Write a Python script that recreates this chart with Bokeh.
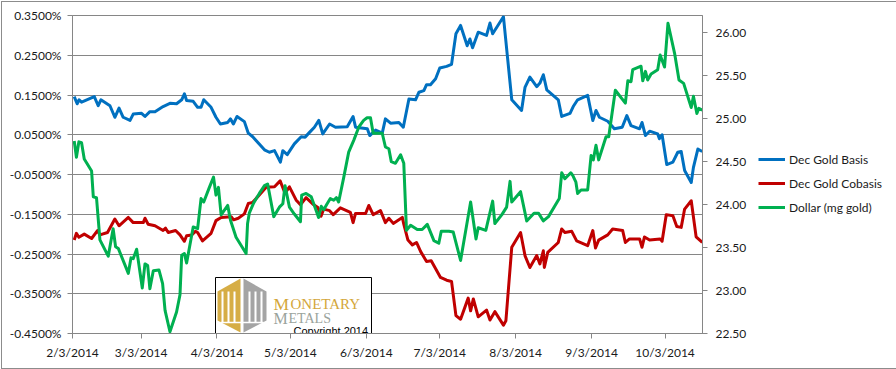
import pandas as pd
from bokeh.plotting import figure
from bokeh.layouts import row
from bokeh.models import (Range1d, LinearAxis, FixedTicker, PrintfTickFormatter,
                          Legend, LegendItem)
from bokeh.embed import file_html
from bokeh.resources import INLINE
from bokeh.core.properties import value

# ---------------- data ----------------
START = "2014-02-03"
tick_dates = ["2014-02-03", "2014-03-03", "2014-04-03", "2014-05-03", "2014-06-03",
              "2014-07-03", "2014-08-03", "2014-09-03", "2014-10-03"]
tick_labels = ["2/3/2014", "3/3/2014", "4/3/2014", "5/3/2014", "6/3/2014",
               "7/3/2014", "8/3/2014", "9/3/2014", "10/3/2014"]
left_ticks = [-0.45, -0.35, -0.25, -0.15, -0.05, 0.05, 0.15, 0.25, 0.35]
right_ticks = [22.5, 23.0, 23.5, 24.0, 24.5, 25.0, 25.5, 26.0]

# days elapsed since 2/3/2014
basis_days = [0.7, 1.9, 2.7, 3.7, 8.9, 10.5, 11.6, 15.3, 17.3, 19.0, 20.7, 23.5, 24.8, 28.2,
              29.6, 31.6, 33.7, 37.0, 39.8, 42.5, 44.6, 45.7, 46.6, 49.3, 51.1, 52.5, 53.6,
              56.6, 58.6, 60.4, 63.4, 64.5, 65.7, 67.2, 70.2, 71.8, 73.6, 78.4, 80.4, 82.5,
              84.9, 85.9, 87.7, 90.6, 93.4, 95.0, 96.8, 98.8, 100.6, 102.2, 105.0, 107.4,
              112.2, 114.6, 115.6, 120.4, 121.4, 123.8, 126.5, 127.8, 129.9, 133.3, 135.1,
              137.4, 140.1, 141.5, 143.5, 144.6, 146.2, 148.3, 150.0, 152.8, 154.8, 156.6,
              158.5, 161.2, 162.3, 163.4, 165.7, 169.1, 170.5, 171.6, 176.0, 179.4, 183.4,
              184.8, 186.8, 189.6, 190.9, 192.3, 193.7, 198.4, 199.8, 203.2, 204.5, 206.3,
              210.4, 212.5, 213.8, 215.2, 218.6, 221.3, 224.5, 226.4, 228.1, 231.6, 232.6,
              234.0, 235.7, 239.0, 239.7, 240.8, 242.7, 245.2, 247.2, 248.6, 250.0, 252.7,
              253.6, 255.4, 257.2]
basis_vals = [0.146, 0.128, 0.138, 0.132, 0.146, 0.123, 0.138, 0.123, 0.094, 0.117, 0.094,
              0.086, 0.102, 0.104, 0.096, 0.108, 0.108, 0.121, 0.129, 0.128, 0.138, 0.153,
              0.136, 0.134, 0.119, 0.119, 0.138, 0.119, 0.094, 0.077, 0.081, 0.090, 0.077,
              0.096, 0.083, 0.054, 0.045, 0.012, 0.006, 0.010, -0.019, 0.010, 0.000, 0.027,
              0.045, 0.044, 0.056, 0.069, 0.086, 0.052, 0.077, 0.069, 0.070, 0.096, 0.069,
              0.065, 0.048, 0.062, 0.054, 0.090, 0.079, 0.081, 0.069, 0.140, 0.138, 0.157,
              0.161, 0.176, 0.176, 0.191, 0.218, 0.222, 0.227, 0.304, 0.325, 0.274, 0.291,
              0.269, 0.308, 0.300, 0.331, 0.304, 0.347, 0.138, 0.111, 0.169, 0.195, 0.171,
              0.180, 0.201, 0.163, 0.138, 0.096, 0.104, 0.121, 0.138, 0.149, 0.086, 0.111,
              0.094, 0.084, 0.065, 0.069, 0.098, 0.073, 0.065, 0.081, 0.048, 0.059, 0.052,
              0.040, 0.050, -0.025, -0.019, 0.006, 0.008, -0.040, -0.070, -0.032, 0.014,
              0.008]

cobasis_days = [0.7, 1.6, 2.6, 4.8, 7.8, 10.2, 11.2, 14.3, 17.3, 19.0, 22.8, 24.8, 28.9, 29.6,
                30.9, 33.7, 37.0, 38.0, 39.1, 42.1, 43.9, 45.7, 46.6, 48.7, 50.2, 51.1, 53.1,
                56.6, 58.6, 60.7, 64.8, 65.8, 67.7, 70.2, 71.8, 73.6, 79.1, 82.5, 84.8, 86.8,
                88.6, 91.3, 93.1, 95.4, 98.1, 100.2, 101.5, 102.6, 105.0, 106.5, 109.4, 113.5,
                114.6, 115.6, 119.7, 121.0, 122.8, 125.8, 127.8, 129.2, 131.0, 134.7, 135.3,
                137.0, 138.8, 140.5, 142.2, 144.6, 146.5, 150.3, 152.8, 154.8, 156.6, 158.5,
                161.6, 162.6, 163.7, 165.7, 169.1, 170.5, 172.5, 176.0, 177.0, 179.4, 183.0,
                184.8, 186.8, 189.6, 190.9, 192.3, 192.7, 194.1, 198.4, 199.8, 201.1, 203.9,
                205.9, 210.4, 212.5, 213.6, 214.9, 218.6, 220.6, 224.7, 225.8, 227.5, 231.6,
                232.6, 233.6, 235.7, 240.0, 240.8, 242.5, 245.2, 246.8, 248.6, 250.0, 252.7,
                254.7, 257.2]
cobasis_vals = [-0.215, -0.198, -0.208, -0.200, -0.211, -0.191, -0.202, -0.196, -0.162,
                -0.179, -0.158, -0.171, -0.171, -0.160, -0.175, -0.179, -0.191, -0.185,
                -0.196, -0.191, -0.202, -0.218, -0.204, -0.202, -0.193, -0.196, -0.217,
                -0.198, -0.166, -0.158, -0.156, -0.164, -0.160, -0.149, -0.123, -0.120,
                -0.082, -0.081, -0.066, -0.097, -0.081, -0.114, -0.126, -0.108, -0.124,
                -0.133, -0.155, -0.137, -0.141, -0.151, -0.134, -0.145, -0.171, -0.148,
                -0.148, -0.128, -0.151, -0.141, -0.171, -0.160, -0.173, -0.158, -0.175,
                -0.215, -0.227, -0.221, -0.244, -0.269, -0.267, -0.309, -0.316, -0.319,
                -0.405, -0.414, -0.361, -0.393, -0.363, -0.408, -0.391, -0.416, -0.395,
                -0.429, -0.418, -0.233, -0.196, -0.254, -0.284, -0.254, -0.275, -0.242,
                -0.284, -0.246, -0.221, -0.187, -0.196, -0.193, -0.217, -0.229, -0.191,
                -0.235, -0.215, -0.202, -0.187, -0.191, -0.221, -0.212, -0.212, -0.233,
                -0.207, -0.215, -0.212, -0.218, -0.151, -0.154, -0.181, -0.183, -0.137,
                -0.116, -0.207, -0.221]

dollar_days = [0.7, 1.6, 2.6, 3.7, 4.8, 7.8, 8.5, 9.8, 11.2, 14.6, 16.6, 17.6, 18.7, 22.8,
               23.9, 24.8, 26.2, 28.5, 29.6, 30.7, 31.6, 33.0, 35.3, 36.8, 37.8, 39.8, 42.5,
               43.9, 44.6, 45.7, 46.6, 49.3, 51.1, 52.5, 53.6, 55.9, 57.6, 58.6, 59.6, 60.7,
               63.4, 64.5, 66.8, 70.9, 71.5, 72.2, 74.0, 76.3, 78.4, 79.7, 82.2, 84.5, 85.9,
               86.8, 88.6, 90.6, 93.1, 93.6, 95.4, 97.5, 99.5, 100.5, 101.6, 102.6, 104.0,
               105.3, 106.7, 107.8, 108.7, 110.8, 112.8, 114.9, 116.9, 118.9, 120.3, 121.7,
               122.8, 126.5, 127.8, 129.2, 130.2, 131.9, 134.0, 135.3, 136.4, 138.1, 140.8,
               142.8, 144.9, 147.6, 149.6, 150.6, 153.7, 155.5, 158.5, 162.6, 164.8, 165.7,
               168.8, 171.6, 172.5, 175.3, 177.3, 178.7, 179.4, 183.0, 185.5, 188.5, 190.3,
               192.3, 194.4, 198.8, 199.8, 201.1, 203.5, 204.3, 205.6, 206.3, 207.7, 210.4,
               211.8, 212.7, 213.8, 214.9, 217.9, 219.0, 221.7, 225.8, 226.8, 228.1, 228.8,
               232.2, 232.9, 234.0, 234.9, 236.3, 239.0, 240.0, 241.8, 243.2, 245.9, 247.7,
               249.6, 252.7, 253.6, 255.0, 255.8, 257.2]
dollar_vals = [24.74, 24.55, 24.73, 24.72, 24.53, 24.39, 24.09, 24.08, 23.59, 23.40, 23.72,
               23.51, 23.49, 23.20, 23.38, 23.37, 23.48, 23.03, 23.31, 23.29, 23.02, 23.23,
               23.24, 23.08, 22.77, 22.52, 22.75, 22.95, 23.41, 23.43, 23.32, 23.74, 23.72,
               24.07, 24.03, 24.20, 24.32, 24.11, 24.20, 23.88, 23.99, 23.82, 23.62, 23.43,
               23.78, 23.90, 24.02, 24.13, 24.22, 24.24, 23.86, 23.97, 24.01, 24.22, 23.97,
               23.89, 23.80, 24.11, 24.13, 24.09, 23.93, 23.85, 23.98, 23.94, 24.01, 24.07,
               24.05, 24.08, 24.03, 24.32, 24.61, 24.75, 24.90, 24.98, 25.01, 25.01, 24.83,
               24.83, 24.67, 24.65, 24.50, 24.48, 24.58, 24.48, 23.70, 23.76, 23.71, 23.71,
               23.77, 23.58, 23.55, 23.69, 23.69, 23.68, 23.35, 24.03, 23.60, 23.73, 23.70,
               24.04, 23.78, 23.88, 23.97, 24.27, 24.03, 24.15, 23.81, 23.90, 23.90, 23.81,
               23.86, 24.07, 24.37, 24.30, 24.37, 24.34, 24.26, 24.13, 24.17, 24.17, 24.57,
               24.52, 24.69, 24.52, 24.79, 24.79, 25.33, 25.18, 25.44, 25.43, 25.57, 25.61,
               25.44, 25.55, 25.45, 25.52, 25.57, 25.74, 25.60, 26.11, 25.76, 25.45, 25.41,
               25.13, 25.26, 25.06, 25.12, 25.10]

series_names = ["Dec Gold Basis", "Dec Gold Cobasis", "Dollar (mg gold)"]
series_colors = ["#0070C0", "#C00000", "#00B050"]

# ---------------- layout ----------------
FONT = "Lato"
GRID = "#868686"
X_END = 257.3
L_MIN, L_MAX = -0.45, 0.35
R_MIN, R_MAX = 22.5, 26.2
FR_L, FR_T, FR_W, FR_H = 72, 15, 630, 318  # frame position on the page
TOTAL_W, TOTAL_H = 894, 366
MAIN_W = 752


def dx(px):
    return (px - FR_L) * X_END / FR_W


def dy(py):
    return L_MAX - (py - FR_T) * (L_MAX - L_MIN) / FR_H


tick_pos = [float((pd.Timestamp(d) - pd.Timestamp(START)).days) for d in tick_dates]

p = figure(width=MAIN_W, height=TOTAL_H, output_backend="svg", toolbar_location=None,
           x_range=Range1d(0, X_END), y_range=Range1d(L_MIN, L_MAX),
           min_border_left=70, min_border_right=MAIN_W - 70 - FR_W, min_border_top=13,
           min_border_bottom=TOTAL_H - 13 - FR_H)
p.outline_line_color = GRID
p.background_fill_color = "white"
p.border_fill_color = "white"

p.xgrid.visible = False
p.ygrid.ticker = FixedTicker(ticks=left_ticks)
p.ygrid.grid_line_color = GRID
p.ygrid.grid_line_width = 1

p.xaxis.ticker = FixedTicker(ticks=tick_pos)
p.xaxis.major_label_overrides = {t: l for t, l in zip(tick_pos, tick_labels)}
p.yaxis.ticker = FixedTicker(ticks=left_ticks)
p.yaxis.formatter = PrintfTickFormatter(format="%.4f%%")

p.extra_y_ranges = {"usd": Range1d(R_MIN, R_MAX)}
rax = LinearAxis(y_range_name="usd", ticker=FixedTicker(ticks=right_ticks),
                 formatter=PrintfTickFormatter(format="%.2f"))
p.add_layout(rax, "right")

for ax in [p.xaxis[0], p.yaxis[0], rax]:
    ax.axis_line_color = GRID
    ax.major_tick_line_color = GRID
    ax.minor_tick_line_color = None
    ax.major_tick_in = 0
    ax.major_tick_out = 5
    ax.major_label_text_font = FONT
    ax.major_label_text_font_size = "12px"
    ax.major_label_text_color = "#1a1a1a"
p.yaxis[0].major_label_standoff = 6
rax.major_label_standoff = 8
p.xaxis[0].major_label_standoff = 6

p.line(basis_days, basis_vals, line_color=series_colors[0], line_width=3, line_join="round")
p.line(cobasis_days, cobasis_vals, line_color=series_colors[1], line_width=3, line_join="round")
p.line(dollar_days, dollar_vals, line_color=series_colors[2], line_width=3, line_join="round",
       y_range_name="usd")

# ---------------- logo box ----------------
p.quad(left=[dx(215)], right=[dx(371)], top=[dy(277)], bottom=[dy(333)],
       fill_color="white", line_color="black", line_width=1)
gold, grey = "#D6AD45", "#A4A4A4"
p.patch([dx(240), dx(217), dx(217), dx(240)], [dy(278), dy(291), dy(320), dy(332)],
        fill_color=gold, line_color=None)
p.patch([dx(243), dx(266), dx(266), dx(243)], [dy(278), dy(291), dy(320), dy(332)],
        fill_color=grey, line_color=None)
for xs in [222, 228, 234, 249, 255, 261]:
    p.segment(x0=[dx(xs)], y0=[dy(291)], x1=[dx(xs)], y1=[dy(322)],
              line_color="white", line_width=2)
p.segment(x0=[dx(220)], y0=[dy(322)], x1=[dx(263)], y1=[dy(322)],
          line_color="white", line_width=1.5)

p.text(x=[dx(273)], y=[dy(303.5)], text=["M"], text_font=value("Liberation Serif"),
       text_font_size="17.5px", text_color="#D4A73A", text_baseline="alphabetic")
p.text(x=[dx(290)], y=[dy(303.5)], text=["ONETARY"], text_font=value("Liberation Serif"),
       text_font_size="15px", text_color="#D4A73A", text_baseline="alphabetic")
p.text(x=[dx(273)], y=[dy(317.5)], text=["M"], text_font=value("Liberation Serif"),
       text_font_size="16px", text_color="#9AA39C", text_baseline="alphabetic")
p.text(x=[dx(288)], y=[dy(317.5)], text=["ETALS"], text_font=value("Liberation Serif"),
       text_font_size="14px", text_color="#9AA39C", text_baseline="alphabetic")
p.text(x=[dx(293)], y=[dy(330)], text=["Copyright 2014"], text_font=value("Liberation Sans"),
       text_font_size="11px", text_color="black", text_baseline="alphabetic")

# ---------------- legend panel (separate figure to the right) ----------------
q = figure(width=TOTAL_W - MAIN_W, height=TOTAL_H, output_backend="svg",
           toolbar_location=None, x_range=Range1d(0, 1), y_range=Range1d(0, 1),
           x_axis_location=None, y_axis_location=None, min_border=0)
q.grid.visible = False
q.outline_line_color = None
q.background_fill_color = "white"
q.border_fill_color = "white"
# key renderers sit outside the visible range; only their legend swatches show
keys = [q.line([5, 6], [5, 5], line_color=c, line_width=3) for c in series_colors]
legend = Legend(items=[LegendItem(label=n, renderers=[r]) for n, r in zip(series_names, keys)],
                location=(4, 116), padding=0, margin=0, spacing=4,
                glyph_width=27, glyph_height=20, label_height=20, label_standoff=4,
                border_line_color=None, background_fill_alpha=0,
                label_text_font=FONT, label_text_font_size="12px",
                label_text_color="#1a1a1a")
q.add_layout(legend)

layout = row(p, q, spacing=0)
layout.styles = {"border": "1px solid #8c8c8c", "margin": "1px", "width": "fit-content"}

open("out.html", "w").write(file_html(layout, INLINE))
